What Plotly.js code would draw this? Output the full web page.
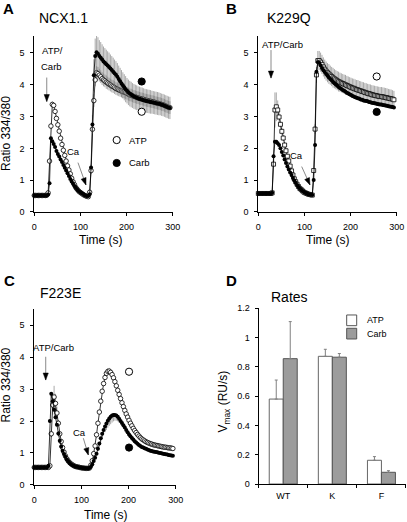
<!DOCTYPE html>
<html>
<head>
<meta charset="utf-8">
<script src="https://cdn.plot.ly/plotly-3.0.1.min.js"></script>
<style>html,body{margin:0;padding:0;background:#fff;}#plot{width:407px;height:522px;}</style>
</head>
<body>
<div id="plot"></div>
<script>
// ---- Time axis (s), shared by panels A-C ----
var time = [0,3,6,9,12,15,18,21,24,27,
  30,33,36,39,42,45,48,51,54,57,
  60,63,66,69,72,75,78,81,84,87,
  90,93,96,99,102,105,108,111,114,117,
  120,123,126,129,132,135,138,141,144,147,
  150,153,156,159,162,165,168,171,174,177,
  180,183,186,189,192,195,198,201,204,207,
  210,213,216,219,222,225,228,231,234,237,
  240,243,246,249,252,255,258,261,264,267,
  270,273,276,279,282,285,288,291,294];

// ---- Panel A: NCX1.1 ----
var a_atp = [0.52,0.52,0.52,0.52,0.52,0.52,0.52,0.52,0.52,0.53,
  0.6,1.6,2.7,3.38,3.35,3.16,2.94,2.74,2.54,2.32,
  2.12,1.94,1.78,1.6,1.45,1.32,1.2,1.06,0.95,0.86,
  0.77,0.71,0.66,0.62,0.59,0.56,0.53,0.51,0.49,0.48,
  0.62,1.3,2.6,3.5,4.15,4.38,4.35,4.3,4.25,4.19,
  4.15,4.12,4.08,4.05,4.02,3.99,3.96,3.94,3.91,3.88,
  3.86,3.84,3.82,3.8,3.78,3.77,3.75,3.73,3.7,3.68,
  3.67,3.65,3.63,3.62,3.6,3.59,3.57,3.56,3.55,3.54,
  3.52,3.51,3.5,3.49,3.48,3.47,3.46,3.45,3.43,3.42,
  3.41,3.4,3.38,3.37,3.35,3.33,3.31,3.29,3.28];
var a_carb = [0.52,0.52,0.52,0.52,0.52,0.52,0.52,0.52,0.52,0.52,
  0.55,0.9,2.32,2.22,2.14,2.04,1.92,1.82,1.74,1.65,
  1.57,1.48,1.39,1.3,1.22,1.13,1.04,0.96,0.89,0.82,
  0.76,0.71,0.66,0.63,0.6,0.57,0.54,0.52,0.5,0.5,
  0.56,1.4,2.75,4.3,4.9,5.02,4.97,4.9,4.85,4.79,
  4.73,4.69,4.64,4.6,4.56,4.51,4.46,4.41,4.36,4.31,
  4.25,4.18,4.11,4.04,3.98,3.92,3.86,3.81,3.76,3.72,
  3.69,3.66,3.63,3.61,3.59,3.57,3.56,3.54,3.53,3.51,
  3.5,3.49,3.48,3.47,3.46,3.45,3.44,3.43,3.42,3.41,
  3.4,3.39,3.37,3.36,3.34,3.32,3.3,3.28,3.27];
var a_atp_err = [0,0,0,0,0,0,0,0,0,0,
  0,0.05,0.1,0.1,0.08,0.06,0.05,0.05,0.04,0.04,
  0.04,0.03,0.03,0.03,0.03,0.02,0.02,0.02,0.02,0.02,
  0.02,0.02,0.02,0.02,0.02,0.02,0.02,0.02,0.02,0.02,
  0.02,0.1,0.15,0.2,0.2,0.2,0.21,0.2,0.2,0.2,
  0.2,0.2,0.21,0.2,0.2,0.2,0.2,0.2,0.2,0.2,
  0.2,0.2,0.2,0.2,0.2,0.2,0.2,0.2,0.2,0.2,
  0.2,0.2,0.2,0.2,0.2,0.2,0.2,0.2,0.2,0.2,
  0.2,0.2,0.2,0.2,0.2,0.2,0.2,0.2,0.2,0.2,
  0.2,0.2,0.2,0.2,0.2,0.2,0.2,0.2,0.2];
var a_carb_err = [0,0,0,0,0,0,0,0,0,0,
  0,0,0,0,0,0,0,0,0,0,
  0,0,0,0,0,0,0,0,0,0,
  0,0,0,0,0,0,0,0,0,0,
  0,0.1,0.3,0.5,0.55,0.55,0.52,0.5,0.49,0.48,
  0.47,0.46,0.46,0.45,0.45,0.44,0.44,0.44,0.43,0.43,
  0.43,0.42,0.42,0.42,0.41,0.41,0.41,0.4,0.4,0.4,
  0.4,0.39,0.39,0.39,0.39,0.38,0.38,0.38,0.38,0.38,
  0.37,0.37,0.37,0.37,0.37,0.36,0.36,0.36,0.36,0.36,
  0.36,0.35,0.35,0.35,0.35,0.35,0.35,0.35,0.35];

// ---- Panel B: K229Q ----
var b_atp = [0.58,0.58,0.58,0.58,0.58,0.58,0.58,0.58,0.58,0.58,
  0.6,1.5,3.2,3.3,3.2,2.98,2.75,2.53,2.32,2.1,
  1.92,1.75,1.6,1.44,1.29,1.16,1.04,0.95,0.87,0.8,
  0.74,0.7,0.66,0.62,0.6,0.58,0.56,0.55,0.54,0.53,
  1.3,2.6,4.3,4.75,4.75,4.7,4.63,4.55,4.48,4.42,
  4.37,4.33,4.29,4.25,4.21,4.18,4.15,4.12,4.09,4.07,
  4.05,4.03,4.01,3.99,3.97,3.95,3.93,3.91,3.89,3.88,
  3.86,3.84,3.83,3.81,3.8,3.78,3.77,3.75,3.74,3.72,
  3.71,3.7,3.68,3.67,3.66,3.65,3.64,3.63,3.62,3.62,
  3.61,3.6,3.59,3.58,3.57,3.56,3.55,3.54,3.52];
var b_carb = [0.58,0.58,0.58,0.58,0.58,0.58,0.58,0.58,0.58,0.58,
  0.6,1.75,2.2,2.2,2.16,2.1,2.0,1.88,1.77,1.65,
  1.54,1.43,1.33,1.24,1.16,1.07,0.99,0.92,0.85,0.79,
  0.74,0.7,0.66,0.63,0.6,0.58,0.56,0.55,0.54,0.53,
  1.0,2.1,4.4,4.7,4.68,4.6,4.52,4.45,4.39,4.33,
  4.27,4.22,4.17,4.13,4.08,4.04,4.0,3.96,3.92,3.89,
  3.86,3.83,3.8,3.77,3.74,3.72,3.69,3.67,3.64,3.62,
  3.6,3.58,3.57,3.55,3.53,3.52,3.5,3.49,3.48,3.47,
  3.45,3.44,3.43,3.42,3.41,3.4,3.39,3.38,3.37,3.37,
  3.36,3.35,3.34,3.33,3.32,3.31,3.3,3.29,3.28];
var b_atp_err = [0,0,0,0,0,0,0,0,0,0,
  0,0.1,0.55,0.45,0.3,0.2,0.15,0.12,0.1,0.1,
  0.08,0.07,0.06,0.05,0.05,0.04,0.04,0.03,0.03,0.03,
  0.03,0.02,0.02,0.02,0.02,0.02,0.02,0.02,0.02,0.02,
  0.05,0.15,0.25,0.3,0.3,0.3,0.3,0.3,0.3,0.3,
  0.3,0.31,0.3,0.3,0.31,0.3,0.3,0.3,0.31,0.3,
  0.3,0.3,0.3,0.31,0.3,0.3,0.3,0.3,0.3,0.3,
  0.3,0.3,0.31,0.3,0.3,0.3,0.3,0.3,0.3,0.3,
  0.3,0.3,0.3,0.3,0.3,0.3,0.3,0.3,0.3,0.3,
  0.3,0.3,0.3,0.3,0.29,0.29,0.29,0.28,0.28];
var b_carb_err = [0,0,0,0,0,0,0,0,0,0,
  0,0.05,0.08,0.06,0.05,0.04,0.04,0.03,0.03,0.03,
  0.02,0.02,0.02,0.02,0.02,0.02,0.02,0.02,0.02,0.02,
  0.02,0.02,0.02,0.02,0.02,0.02,0.02,0.02,0.02,0.02,
  0.05,0.05,0.05,0.05,0.05,0.05,0.05,0.05,0.05,0.05,
  0.05,0.05,0.05,0.05,0.05,0.05,0.05,0.05,0.05,0.05,
  0.05,0.05,0.05,0.05,0.05,0.05,0.05,0.05,0.05,0.05,
  0.05,0.05,0.05,0.05,0.05,0.05,0.05,0.05,0.05,0.05,
  0.05,0.05,0.05,0.05,0.05,0.05,0.05,0.05,0.05,0.05,
  0.05,0.05,0.05,0.05,0.05,0.05,0.05,0.05,0.05];

// ---- Panel C: F223E ----
var c_atp = [0.55,0.55,0.55,0.55,0.55,0.55,0.55,0.55,0.55,0.55,
  0.55,0.6,1.6,2.5,2.75,2.55,2.25,1.93,1.6,1.36,
  1.17,1.03,0.91,0.82,0.75,0.7,0.66,0.63,0.6,0.58,
  0.57,0.56,0.55,0.54,0.53,0.53,0.52,0.52,0.52,0.53,
  0.62,0.76,0.98,1.22,1.57,1.93,2.28,2.62,2.93,3.17,
  3.36,3.49,3.55,3.56,3.52,3.45,3.35,3.23,3.1,2.96,
  2.83,2.7,2.57,2.45,2.33,2.22,2.12,2.02,1.93,1.85,
  1.77,1.7,1.64,1.58,1.53,1.48,1.44,1.41,1.38,1.35,
  1.33,1.31,1.29,1.28,1.26,1.25,1.24,1.23,1.22,1.21,
  1.2,1.19,1.18,1.18,1.17,1.16,1.16,1.15,1.14];
var c_carb = [0.55,0.55,0.55,0.55,0.55,0.55,0.55,0.55,0.55,0.55,
  0.6,2.0,2.85,2.62,2.35,2.12,1.88,1.61,1.38,1.2,
  1.07,0.97,0.88,0.8,0.74,0.69,0.65,0.62,0.6,0.58,
  0.57,0.56,0.55,0.54,0.53,0.53,0.52,0.52,0.52,0.53,
  0.57,0.65,0.75,0.85,0.98,1.13,1.3,1.46,1.6,1.72,
  1.83,1.92,2.01,2.08,2.13,2.17,2.19,2.19,2.17,2.13,
  2.07,2.0,1.94,1.87,1.8,1.72,1.65,1.58,1.52,1.47,
  1.42,1.37,1.33,1.29,1.25,1.22,1.19,1.17,1.15,1.13,
  1.11,1.09,1.07,1.06,1.05,1.04,1.03,1.02,1.01,1.0,
  0.99,0.98,0.97,0.96,0.95,0.94,0.93,0.92,0.91];
var c_atp_err = [0,0,0,0,0,0,0,0,0,0,
  0,0,0.1,0.3,0.35,0.3,0.2,0.1,0.05,0.03,
  0.02,0.02,0.02,0.02,0.02,0.02,0.02,0.02,0.02,0.02,
  0.02,0.02,0.02,0.02,0.02,0.02,0.02,0.02,0.02,0.02,
  0.02,0.02,0.03,0.03,0.04,0.04,0.05,0.05,0.06,0.06,
  0.07,0.08,0.1,0.1,0.08,0.07,0.06,0.05,0.05,0.04,
  0.04,0.04,0.04,0.03,0.03,0.03,0.03,0.03,0.03,0.03,
  0.03,0.03,0.03,0.02,0.02,0.02,0.02,0.02,0.02,0.02,
  0.02,0.02,0.02,0.02,0.02,0.02,0.02,0.02,0.02,0.02,
  0.02,0.02,0.02,0.02,0.02,0.02,0.02,0.02,0.02];
var c_carb_err = [0,0,0,0,0,0,0,0,0,0,
  0,0.05,0.1,0.08,0.06,0.05,0.04,0.03,0.03,0.02,
  0.02,0.02,0.02,0.02,0.02,0.02,0.02,0.02,0.02,0.02,
  0.02,0.02,0.02,0.02,0.02,0.02,0.02,0.02,0.02,0.02,
  0,0,0.02,0.03,0.05,0.07,0.1,0.12,0.14,0.16,
  0.18,0.2,0.22,0.23,0.23,0.22,0.2,0.18,0.16,0.14,
  0.12,0.1,0.08,0.07,0.06,0.05,0.05,0.04,0.04,0.04,
  0.03,0.03,0.03,0.03,0.03,0.03,0.03,0.03,0.03,0.03,
  0.03,0.03,0.03,0.03,0.03,0.03,0.03,0.03,0.03,0.03,
  0.03,0.03,0.03,0.03,0.03,0.03,0.03,0.03,0.03];

// ---- Panel D: Rates ----
var groups = ['WT', 'K', 'F'];
var d_atp = [0.58, 0.872, 0.162];
var d_carb = [0.856, 0.866, 0.08];
var d_atp_err = [0.13, 0.048, 0.025];
var d_carb_err = [0.253, 0.025, 0.011];

var seriesNames = ['ATP', 'Carb'];

// ---------------- drawing ----------------
var FONT = 'Arial, "Liberation Sans", Helvetica, sans-serif';
var errStyle = {color: '#7a7a7a', thickness: 0.65, width: 0};

function openTrace(x, y, xa, ya, sym, errObj) {
  return {
    type: 'scatter', mode: 'lines+markers', x: x, y: y, xaxis: xa, yaxis: ya,
    name: seriesNames[0], showlegend: false, cliponaxis: false,
    line: {color: '#000', width: 0.8},
    marker: {symbol: sym, size: sym === 'square' ? 4 : 4.5, color: '#fff', line: {color: '#000', width: 0.8}},
    error_y: errObj
  };
}
function filledTrace(x, y, xa, ya, errObj) {
  return {
    type: 'scatter', mode: 'lines+markers', x: x, y: y, xaxis: xa, yaxis: ya,
    name: seriesNames[1], showlegend: false, cliponaxis: false,
    line: {color: '#000', width: 0.8},
    marker: {symbol: 'circle', size: 4, color: '#000'},
    error_y: errObj
  };
}
function sym(arr) { return Object.assign({type: 'data', array: arr, visible: true}, errStyle); }
function minusOnly(arr) { return Object.assign({type: 'data', symmetric: false, arrayminus: arr, visible: true}, errStyle); }

var data = [
  openTrace(time, a_atp, 'x', 'y', 'circle', sym(a_atp_err)),
  filledTrace(time, a_carb, 'x', 'y', sym(a_carb_err)),
  openTrace(time, b_atp, 'x2', 'y2', 'square', sym(b_atp_err)),
  filledTrace(time, b_carb, 'x2', 'y2', sym(b_carb_err)),
  openTrace(time, c_atp, 'x3', 'y3', 'circle', sym(c_atp_err)),
  filledTrace(time, c_carb, 'x3', 'y3', minusOnly(c_carb_err)),
  {
    type: 'bar', x: groups, y: d_atp, xaxis: 'x4', yaxis: 'y4', name: seriesNames[0], showlegend: false,
    marker: {color: '#ffffff', line: {color: '#666', width: 1}},
    error_y: {type: 'data', symmetric: false, array: d_atp_err, color: '#808080', thickness: 1, width: 1.5}
  },
  {
    type: 'bar', x: groups, y: d_carb, xaxis: 'x4', yaxis: 'y4', name: seriesNames[1], showlegend: false,
    marker: {color: '#9c9c9c', line: {color: '#555', width: 1}},
    error_y: {type: 'data', symmetric: false, array: d_carb_err, color: '#808080', thickness: 1, width: 1.5}
  }
];

function xa(dom, anchor) {
  return {domain: dom, anchor: anchor, range: [0, 300], tickvals: [0, 100, 200, 300],
    showline: true, linecolor: '#000', linewidth: 1, ticks: 'outside', ticklen: 3, tickcolor: '#000',
    tickfont: {size: 9, color: '#000'}, showgrid: false, zeroline: false, fixedrange: true,
    ticklabelstandoff: 3, automargin: false};
}
function ya(dom, anchor, top) {
  return {domain: dom, anchor: anchor, range: [0, top], tick0: 0, dtick: 1,
    showline: true, linecolor: '#000', linewidth: 1, ticks: 'outside', ticklen: 3, tickcolor: '#000',
    tickfont: {size: 9, color: '#000'}, showgrid: false, zeroline: false, fixedrange: true,
    ticklabelstandoff: 4, automargin: false};
}

var annotations = [];
function ptxt(text, x, y, size, bold, angle, anchor) {
  annotations.push({xref: 'paper', yref: 'paper', x: x, y: y, text: bold ? '<b>' + text + '</b>' : text,
    showarrow: false, xanchor: anchor || 'center', yanchor: 'middle', textangle: angle || 0,
    font: {family: FONT, size: size, color: '#000'}});
}
function dtxt(text, xr, yr, x, y, anchor) {
  annotations.push({xref: xr, yref: yr, x: x, y: y, text: text, showarrow: false,
    xanchor: anchor || 'center', yanchor: 'middle', font: {family: FONT, size: 9.5, color: '#000'}});
}

var shapes = [];
// arrow: gray shaft from tail (tx,ty) to head (hx,hy) in data units, black head drawn in pixels
function arrow(xr, yr, tx, ty, hx, hy, dxPx, dyPx) {
  shapes.push({type: 'line', xref: xr, yref: yr, x0: tx, y0: ty, x1: hx, y1: hy,
    line: {color: '#8a8a8a', width: 1}});
  // dxPx, dyPx: direction (pixels, y up) pointing from head back toward tail
  var len = Math.sqrt(dxPx * dxPx + dyPx * dyPx);
  var ux = dxPx / len, uy = dyPx / len;
  var L = 7, W = 2.6;
  var bx = ux * L, by = uy * L;
  var px = -uy * W, py = ux * W;
  var path = 'M0,0L' + (bx + px).toFixed(2) + ',' + (by + py).toFixed(2) +
    'L' + (bx - px).toFixed(2) + ',' + (by - py).toFixed(2) + 'Z';
  shapes.push({type: 'path', xref: xr, yref: yr, xsizemode: 'pixel', ysizemode: 'pixel',
    xanchor: hx, yanchor: hy, path: path, line: {color: '#000', width: 0.5}, fillcolor: '#000'});
}
function dot(xr, yr, x, y, filled) {
  shapes.push({type: 'circle', xref: xr, yref: yr, xsizemode: 'pixel', ysizemode: 'pixel',
    xanchor: x, yanchor: y, x0: -3.6, x1: 3.6, y0: -3.6, y1: 3.6,
    line: {color: '#000', width: 1}, fillcolor: filled ? '#000' : '#fff'});
}

// Panel letters & titles
ptxt('A', 0.0204, 0.9833, 15, true);
ptxt('B', 0.570, 0.9833, 15, true);
ptxt('C', 0.0226, 0.4636, 15, true);
ptxt('D', 0.570, 0.4617, 15, true);
ptxt('NCX1.1', 0.1548, 0.9655, 14);
ptxt('K229Q', 0.7101, 0.9655, 14);
ptxt('F223E', 0.1486, 0.4387, 14);
ptxt('Rates', 0.7101, 0.4316, 14);
// Axis titles
ptxt('Ratio 334/380', 0.0145, 0.7452, 12, false, -90);
ptxt('Ratio 334/380', 0.0135, 0.2625, 12, false, -90);
ptxt('Time (s)', 0.2489, 0.5402, 12);
ptxt('Time (s)', 0.8066, 0.5402, 12);
ptxt('Time (s)', 0.260, 0.0125, 12);
ptxt('V<sub>max</sub> (RU/s)', 0.5504, 0.2308, 12, false, -90);

// Panel A annotations
dtxt('ATP/', 'x', 'y', 38.4, 5.06);
dtxt('Carb', 'x', 'y', 37.7, 4.56);
arrow('x', 'y', 27, 4.225, 27, 3.47, 0, 1);
dtxt('Ca', 'x', 'y', 86, 1.9);
arrow('x', 'y', 94.66, 1.551, 112, 0.85, -8, 22.3);
dtxt('ATP', 'x', 'y', 201, 2.26, 'left');
dtxt('Carb', 'x', 'y', 201, 1.54, 'left');
dot('x', 'y', 232.8, 3.15, false);
dot('x', 'y', 232.8, 4.1, true);
dot('x', 'y', 178.6, 2.26, false);
dot('x', 'y', 178.6, 1.54, true);
// Panel B annotations
dtxt('ATP/Carb', 'x2', 'y2', 52.9, 5.24);
arrow('x2', 'y2', 27.5, 5.079, 27.5, 4.2, 0, 1);
dtxt('Ca', 'x2', 'y2', 83.2, 1.77);
arrow('x2', 'y2', 94.0, 1.424, 112, 0.85, -8.3, 18.3);
dot('x2', 'y2', 256.6, 4.25, false);
dot('x2', 'y2', 256.6, 3.14, true);
// Panel C annotations
dtxt('ATP/Carb', 'x3', 'y3', 39.7, 4.31);
arrow('x3', 'y3', 24.2, 4.008, 24.2, 3.28, 0, 1);
dtxt('Ca', 'x3', 'y3', 95, 1.63);
arrow('x3', 'y3', 104.0, 1.462, 114.6, 0.94, -5, 16.7);
dot('x3', 'y3', 201, 3.54, false);
dot('x3', 'y3', 201, 1.17, true);
// Panel D legend
shapes.push({type: 'rect', xref: 'paper', yref: 'paper', x0: 0.8518, x1: 0.8764, y0: 0.3761, y1: 0.3966,
  line: {color: '#555', width: 1}, fillcolor: '#fff'});
shapes.push({type: 'rect', xref: 'paper', yref: 'paper', x0: 0.8518, x1: 0.8764, y0: 0.3506, y1: 0.3711,
  line: {color: '#555', width: 1}, fillcolor: '#9c9c9c'});
ptxt('ATP', 0.8968, 0.3864, 9, false, 0, 'left');
ptxt('Carb', 0.8968, 0.3607, 9, false, 0, 'left');

var layout = {
  width: 407, height: 522, margin: {l: 0, r: 0, t: 0, b: 0},
  paper_bgcolor: '#fff', plot_bgcolor: 'rgba(0,0,0,0)',
  font: {family: FONT, color: '#000'}, showlegend: false,
  barmode: 'group', bargap: 0.43, bargroupgap: 0,
  xaxis: xa([0.0843, 0.4243], 'y'),
  yaxis: ya([0.5939, 0.931], 'x', 5.53),
  xaxis2: xa([0.6347, 0.9747], 'y2'),
  yaxis2: ya([0.5939, 0.931], 'x2', 5.52),
  xaxis3: xa([0.0843, 0.4317], 'y3'),
  yaxis3: ya([0.0709, 0.408], 'x3', 5.5),
  xaxis4: {domain: [0.6356, 0.9975], anchor: 'y4', type: 'category', range: [-0.5, 2.5],
    showline: true, linecolor: '#000', linewidth: 1, ticks: 'outside', tickson: 'boundaries', ticklen: 3,
    tickcolor: '#000', tickfont: {size: 9, color: '#000'}, showgrid: false, zeroline: false,
    ticklabelstandoff: 3, automargin: false},
  yaxis4: {domain: [0.0728, 0.4094], anchor: 'x4', range: [0, 1.2], tick0: 0, dtick: 0.2,
    showline: true, linecolor: '#000', linewidth: 1, ticks: 'outside', ticklen: 3, tickcolor: '#000',
    tickfont: {size: 9, color: '#000'}, showgrid: false, zeroline: false, ticklabelstandoff: 3,
    automargin: false},
  annotations: annotations,
  shapes: shapes
};

Plotly.newPlot('plot', data, layout, {staticPlot: true, displayModeBar: false});
</script>
</body>
</html>
